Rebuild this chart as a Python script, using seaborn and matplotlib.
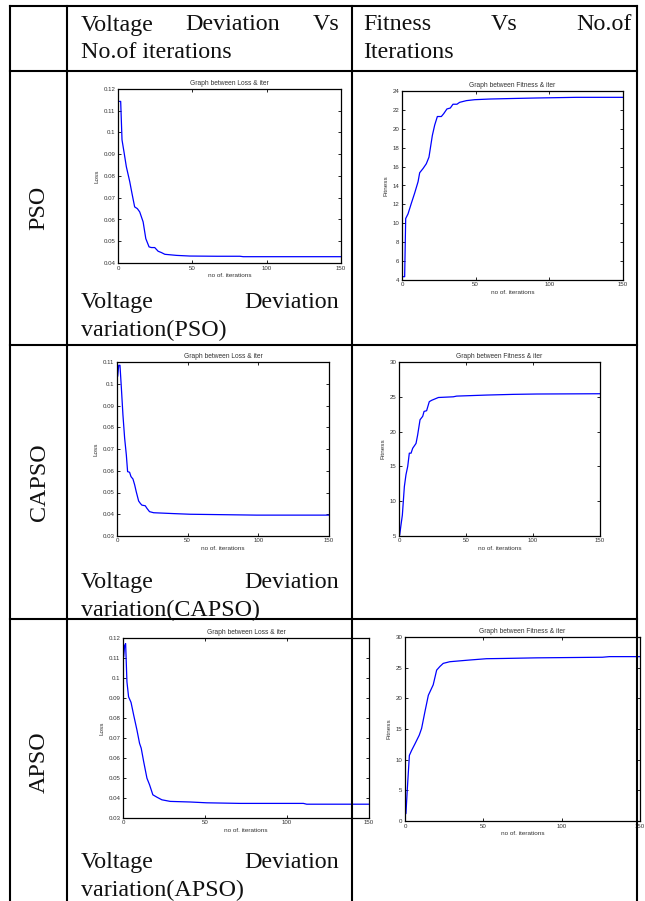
import matplotlib
matplotlib.use("Agg")
import matplotlib.pyplot as plt
import seaborn as sns
import pandas as pd

# ---------------- data ----------------
pso_loss_iter = [1, 1.8, 2.7, 4, 5.6, 7.9, 9.4, 11.2, 13, 14.6, 16.9, 18.7, 20.9, 22.5, 24.7, 27,
                 29.2, 31.5, 39.4, 48.3, 66.3, 82, 84.3, 150]
pso_loss_val = [0.1143, 0.1143, 0.0966, 0.0912, 0.0843, 0.0774, 0.072, 0.0658, 0.065, 0.0635, 0.0589,
                0.0512, 0.0474, 0.0471, 0.0471, 0.0454, 0.0448, 0.044, 0.0435, 0.0432, 0.0431, 0.0431,
                0.0429, 0.0429]

pso_fit_iter = [0.7, 1.8, 2.5, 4.1, 6.3, 8.6, 10.9, 12, 14.3, 16.5, 18.3, 20.6, 22.2, 24, 26.7, 28.3,
                30.5, 32.8, 34.6, 37.3, 39.1, 43.7, 49.3, 59.5, 73, 91.2, 118.3, 150]
pso_fit_val = [4.35, 4.35, 10.5, 11.0, 12.1, 13.2, 14.4, 15.35, 15.8, 16.3, 17.0, 19.3, 20.4, 21.3,
               21.3, 21.6, 22.1, 22.2, 22.6, 22.6, 22.8, 22.98, 23.08, 23.15, 23.2, 23.26, 23.33, 23.33]

capso_loss_iter = [0.5, 1.2, 2.1, 3.1, 4.2, 5.4, 6.6, 7.5, 8.9, 9.9, 11.3, 12.5, 13.6, 15.3, 16.5, 17.6,
                   20, 21.2, 23, 25.9, 29.4, 40, 51.7, 75.2, 98.8, 150]
capso_loss_val = [0.1034, 0.1085, 0.1085, 0.098, 0.0857, 0.075, 0.0673, 0.0596, 0.0593, 0.0573, 0.0562,
                  0.0535, 0.0504, 0.0461, 0.045, 0.0442, 0.0439, 0.0427, 0.0412, 0.0407, 0.0406, 0.0403,
                  0.04, 0.0398, 0.0396, 0.0396]

capso_fit_iter = [0.5, 1.5, 2.5, 4, 5.2, 6.5, 7.7, 9, 10.2, 12.7, 13.9, 15.7, 17.7, 18.7, 20.6, 22.6,
                  24.4, 26.9, 29.4, 40.5, 43, 65.4, 85.3, 102.7, 150]
capso_fit_val = [5.14, 6.6, 8.0, 12.1, 13.8, 15.0, 16.9, 16.9, 17.6, 18.3, 19.5, 21.7, 22.2, 22.9, 23.0,
                 24.3, 24.5, 24.7, 24.9, 25.0, 25.1, 25.25, 25.35, 25.4, 25.44]

apso_loss_iter = [0.4, 1, 1.6, 2.4, 3.4, 4.9, 6.5, 8.5, 10.1, 11.1, 12.6, 14.6, 16.2, 18.2, 20.7, 23.7,
                  28.8, 41, 51, 71.4, 110, 112, 150]
apso_loss_val = [0.1105, 0.1163, 0.1172, 0.0981, 0.0906, 0.0878, 0.0815, 0.074, 0.0673, 0.0649, 0.0582,
                 0.0499, 0.0466, 0.0416, 0.0404, 0.0391, 0.0383, 0.038, 0.0376, 0.0373, 0.0373, 0.0369,
                 0.0369]

apso_fit_iter = [0.6, 1.5, 2.8, 4.2, 6.4, 9.1, 10.6, 12.7, 14.9, 18, 20.2, 22.3, 24.4, 28.6, 41.4, 52,
                 62.6, 83.8, 126, 130.5, 150]
apso_fit_val = [1.2, 5.3, 10.7, 11.5, 12.6, 14.0, 15.1, 17.8, 20.5, 22.2, 24.6, 25.2, 25.7, 25.97, 26.25,
                26.46, 26.5, 26.6, 26.7, 26.8, 26.8]

x_ticks = [0, 50, 100, 150]
loss_ticks_pso = [0.04, 0.05, 0.06, 0.07, 0.08, 0.09, 0.1, 0.11, 0.12]
loss_ticks_capso = [0.03, 0.04, 0.05, 0.06, 0.07, 0.08, 0.09, 0.1, 0.11]
loss_ticks_apso = [0.03, 0.04, 0.05, 0.06, 0.07, 0.08, 0.09, 0.1, 0.11, 0.12]
fit_ticks_pso = [4, 6, 8, 10, 12, 14, 16, 18, 20, 22, 24]
fit_ticks_capso = [5, 10, 15, 20, 25, 30]
fit_ticks_apso = [0, 5, 10, 15, 20, 25, 30]

row_labels = ["PSO", "CAPSO", "APSO"]
header_col1 = ["Voltage Deviation Vs", "No.of iterations"]
header_col2 = ["Fitness Vs No.of", "Iterations"]
captions = [["Voltage Deviation", "variation(PSO)"],
            ["Voltage Deviation", "variation(CAPSO)"],
            ["Voltage Deviation", "variation(APSO)"]]

# ---------------- style ----------------
sns.set_theme(style="ticks")
plt.rcParams['font.family'] = ['Liberation Sans', 'DejaVu Sans']

W, H = 645, 901
fig = plt.figure(figsize=(W / 100, H / 100), dpi=100)
fig.patch.set_facecolor("white")


def add_ax(x0, y0, x1, y1):
    return fig.add_axes([x0 / W, 1 - y1 / H, (x1 - x0) / W, (y1 - y0) / H])


def draw_plot(box, xs, ys, ticks, ylabel, title):
    ax = add_ax(*box)
    df = pd.DataFrame({"iter": xs, "val": ys})
    sns.lineplot(data=df, x="iter", y="val", ax=ax, color="#0000ff", linewidth=0.9, sort=False)
    ax.set_xlim(0, 150)
    ax.set_xticks(x_ticks)
    ax.set_xticklabels([f"{v:g}" for v in x_ticks])
    ax.set_ylim(ticks[0], ticks[-1])
    ax.set_yticks(ticks)
    ax.set_yticklabels([f"{v:g}" for v in ticks])
    ax.tick_params(direction="in", length=2.2, width=0.6, labelsize=4.4, top=True, right=True,
                   pad=1.8, color="black", labelcolor="#333333")
    for s in ax.spines.values():
        s.set_visible(True)
        s.set_linewidth(0.9)
        s.set_color("black")
    ax.set_title(title, fontsize=4.8, pad=3, color="#333333")
    ax.set_xlabel("no of. iterations", fontsize=4.6, labelpad=1.8, color="#333333")
    ax.set_ylabel(ylabel, fontsize=4.6, labelpad=3, color="#333333")
    return ax


draw_plot((118, 89, 341, 263), pso_loss_iter, pso_loss_val, loss_ticks_pso, "Loss", "Graph between Loss & iter")
draw_plot((402, 91, 623, 280), pso_fit_iter, pso_fit_val, fit_ticks_pso, "Fitness", "Graph between Fitness & iter")
draw_plot((117, 362, 329, 536), capso_loss_iter, capso_loss_val, loss_ticks_capso, "Loss", "Graph between Loss & iter")
draw_plot((399, 362, 600, 536), capso_fit_iter, capso_fit_val, fit_ticks_capso, "Fitness", "Graph between Fitness & iter")
draw_plot((123, 638, 369, 818), apso_loss_iter, apso_loss_val, loss_ticks_apso, "Loss", "Graph between Loss & iter")
draw_plot((405, 637, 640, 821), apso_fit_iter, apso_fit_val, fit_ticks_apso, "Fitness", "Graph between Fitness & iter")

# ---------------- table overlay ----------------
ov = fig.add_axes([0, 0, 1, 1], zorder=10)
ov.set_xlim(0, W)
ov.set_ylim(H, 0)
ov.axis("off")

LW = 1.5
xl, xc1, xc2, xr = 9.5, 67, 352, 636.5
ytop, yh, y1, y2 = 6, 71, 345, 619
for yy in (ytop, yh, y1, y2):
    ov.plot([xl, xr], [yy, yy], color="black", lw=LW, solid_capstyle="projecting")
for xx in (xl, xc1, xc2, xr):
    ov.plot([xx, xx], [ytop, H + 5], color="black", lw=LW, solid_capstyle="projecting")

SERIF = ["Liberation Serif", "DejaVu Serif"]
FS = 17.3
renderer = fig.canvas.get_renderer()


def para(lines, left, right, base, step=27.8):
    for i, line in enumerate(lines):
        y = base + i * step
        words = line.split()
        last = i == len(lines) - 1
        if last or len(words) == 1:
            ov.text(left, y, line, family=SERIF, fontsize=FS, va="baseline", ha="left", color="#111111")
            continue
        ts = [ov.text(0, y, w, family=SERIF, fontsize=FS, va="baseline", ha="left", color="#111111")
              for w in words]
        widths = [t.get_window_extent(renderer).width for t in ts]
        gap = (right - left - sum(widths)) / (len(words) - 1)
        x = left
        for t, w in zip(ts, widths):
            t.set_x(x)
            x += w + gap


para(header_col1, 81, 339, 30.5)
para(header_col2, 363, 632, 30.5)
for cap, base in zip(captions, (308, 588, 868)):
    para(cap, 81, 339, base)

for lab, yc in zip(row_labels, (208, 482, 762)):
    ov.text(39, yc, lab, family=SERIF, fontsize=FS, rotation=90, ha="center", va="center", color="#111111")

fig.savefig("out.png", dpi=100)
